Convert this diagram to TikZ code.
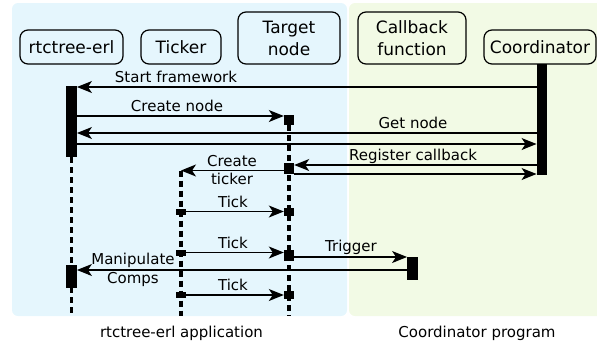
\documentclass[tikz,border=0pt]{standalone}
\usepackage{fontspec}
\setmainfont{DejaVu Sans}
\usetikzlibrary{arrows.meta}
\definecolor{bluebg}{RGB}{229,246,253}
\definecolor{greenbg}{RGB}{242,250,229}
\begin{document}
\begin{tikzpicture}[x=1pt,y=-1pt,
  actor/.style={draw, line width=1.2pt, rounded corners=8pt, inner sep=0pt, align=center, font=\fontsize{17}{22}\selectfont},
  bar/.style={fill=black, inner sep=0pt, minimum width=10.5pt},
  sq/.style={fill=black, inner sep=0pt, minimum width=10pt},
  life/.style={line width=3.2pt, dash pattern=on 6pt off 4pt},
  msg/.style={line width=1.2pt, -{Stealth[length=15pt,width=12pt,inset=4pt]}},
  lbl/.style={font=\fontsize{15}{19}\selectfont, inner sep=0pt, anchor=base},
  foot/.style={font=\fontsize{15}{19}\selectfont, inner sep=0pt, anchor=base}
]
\useasboundingbox (0,0) rectangle (597,346);
\clip (0,0) rectangle (597,346);
% panels
\fill[bluebg, rounded corners=6pt] (12,3) rectangle (347,316);
\fill[greenbg, rounded corners=6pt] (349,3) rectangle (610,316);
% actors
\node[actor, minimum width=103pt, minimum height=34pt] (rt) at (71.5,47) {rtctree-erl};
\node[actor, minimum width=80pt, minimum height=34pt] (tk) at (181,47) {Ticker};
\node[actor, minimum width=102pt, minimum height=52pt] (tg) at (289,38) {Target\\node};
\node[actor, minimum width=108pt, minimum height=52pt] (cbf) at (412,38) {Callback\\function};
\node[actor, minimum width=112pt, minimum height=34pt] (co) at (540,47) {Coordinator};
% anchor points of lifelines
\coordinate (tkstart) at (181,170.5);
\coordinate (rtend) at (71.5,316);
\coordinate (tkend) at (181,316);
\coordinate (tgend) at (289,316);
\coordinate (s1bot) at (289,125);
\coordinate (rb1bot) at (71.5,157);
% lifelines
\draw[life] (rb1bot) -- (rtend);
\draw[life] (tkstart) -- (tkend);
\draw[life] (s1bot) -- (tgend);
% bars and squares
\node[bar, minimum height=71pt] (rb1) at (71.5,121.5) {};
\node[bar, minimum height=111pt] (cb) at (542,119.5) {};
\node[bar, minimum height=23pt] (fb) at (412.5,268.5) {};
\node[bar, minimum height=23pt] (rb2) at (71.5,276.5) {};
\node[sq, minimum height=10pt] (s1) at (289,120) {};
\node[sq, minimum height=11pt] (s2) at (289,168.5) {};
\node[sq, minimum height=8pt] (s3) at (289,211.5) {};
\node[sq, minimum height=11pt] (s4) at (289,255.5) {};
\node[sq, minimum height=8pt] (s5) at (289,295) {};
\node[sq, minimum height=6pt] (t1) at (181,211.5) {};
\node[sq, minimum height=6pt] (t2) at (181,252.5) {};
\node[sq, minimum height=6pt] (t3) at (181,295) {};
% messages
\draw[msg] (cb.west |- 0,87) -- (rb1.east |- 0,87);
\draw[msg] (rb1.east |- 0,116) -- (s1.west |- 0,116);
\draw[msg] (cb.west |- 0,133) -- (rb1.east |- 0,133);
\draw[msg] (rb1.east |- 0,144) -- (cb.west |- 0,144);
\draw[msg] (cb.west |- 0,165) -- (s2.east |- 0,165);
\draw[msg] (s2.east |- 0,174) -- (cb.west |- 0,174);
\draw[msg] (s2.west |- 0,170.5) -- (tkstart);
\draw[msg] (t1.east) -- (t1.east -| s3.west);
\draw[msg] (t2.east) -- (t2.east -| s4.west);
\draw[msg] (t3.east) -- (t3.east -| s5.west);
\draw[msg] (s4.east |- 0,257) -- (fb.west |- 0,257);
\draw[msg] (fb.west |- 0,270) -- (rb2.east |- 0,270);
% labels
\node[lbl] (l1) at (176,82) {Start framework};
\node[lbl] (l2) at (177,111) {Create node};
\node[lbl] (l3) at (413,128) {Get node};
\node[lbl] (l4) at (413,160) {Register callback};
\node[lbl] (l5a) at (232,166.5) {Create};
\node[lbl] (l5b) at (232,184.5) {ticker};
\node[lbl] (l6) at (233,207) {Tick};
\node[lbl] (l7) at (233,248) {Tick};
\node[lbl] (l8) at (233,290) {Tick};
\node[lbl] (l9) at (351,251) {Trigger};
\node[lbl] (l10a) at (133,264.5) {Manipulate};
\node[lbl] (l10b) at (133,283.5) {Comps};
% footers
\node[foot] (fa) at (181.5,337) {rtctree-erl application};
\node[foot] (fc) at (477,337) {Coordinator program};
\end{tikzpicture}
\end{document}
